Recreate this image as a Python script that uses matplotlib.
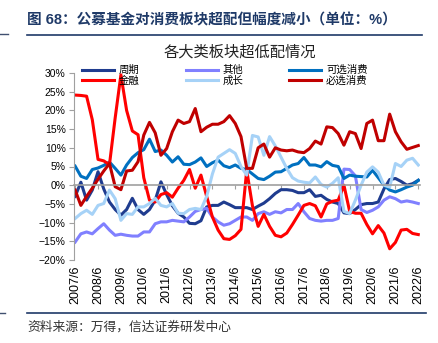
import matplotlib
matplotlib.use('Agg')
import matplotlib.pyplot as plt
from matplotlib.lines import Line2D

plt.rcParams['font.family'] = ['Liberation Sans', 'Noto Sans CJK SC']

# 季度数据 2007/6 - 2022/6
years = [f'{y}/6' for y in range(2007, 2023)]

cycle = [-3.0, 0.8, -4.0, -1.3, 3.6, -1.0, -4.5, -6.5, -8.0, -6.5,
         -3.5, -6.5, -7.8, -6.5, -4.0, 0.9, -2.5, -5.5, -7.5, -8.5,
         -10.2, -10.3, -9.5, -5.8, -5.4, -5.4, -4.5, -5.2, -6.0, -6.0,
         -6.0, -6.5, -5.6, -4.8, -3.6, -2.2, -1.2, -1.2, -1.4, -2.0,
         -2.0, -1.2, -3.0, -2.7, -3.8, -4.5, -4.9, -7.4, -7.6, -6.5,
         -5.2, -4.9, -4.9, -4.5, -1.0, 1.5, 1.8, 1.0, 0.0, 0.4, 1.3]
finance = [24.1, 24.0, 23.8, 17.5, 6.9, 6.5, 5.5, 18.0, 29.5, 20.0,
           14.5, 13.5, 2.0, -4.0, -4.5, -2.5, -2.0, -3.2, -0.8, 1.3,
           4.2, -0.8, 2.7, -3.0, -8.5, -12.0, -14.3, -14.5, -13.5, -11.8,
           4.0, -5.5, -11.0, -7.8, -11.0, -13.4, -13.8, -12.8, -10.5, -8.0,
           -5.4, -4.9, -5.5, -8.5, -5.0, -4.3, -4.0, 0.0, -7.0, -7.5,
           -7.5, -10.5, -13.0, -10.8, -12.8, -17.0, -15.3, -12.0, -11.8, -12.9, -13.2]
other = [-15.2, -13.0, -12.5, -13.0, -11.6, -10.3, -12.0, -13.4, -13.1, -13.4,
         -13.6, -13.6, -12.5, -12.5, -10.3, -9.8, -9.8, -9.4, -9.6, -9.8,
         -8.5, -7.0, -6.5, -6.2, -8.5, -9.8, -10.7, -10.3, -9.4, -8.5,
         -8.5, -9.4, -7.6, -7.1, -7.8, -7.1, -7.4, -6.5, -6.5, -4.9,
         -7.1, -8.9, -9.4, -9.6, -9.4, -9.4, -8.9, 4.3, 4.2, 2.5,
         -6.5, -7.3, -6.7, -5.8, -4.0, -3.1, -3.6, -4.5, -4.2, -4.5, -4.9]
growth = [-8.9, -7.6, -6.7, -7.8, -5.4, -4.9, -1.3, -3.6, -9.4, -7.6,
          -7.8, -5.8, -5.8, -4.9, -3.5, -5.4, -5.8, -4.9, -7.5, -7.6,
          -6.5, -6.2, -6.5, -3.0, 3.0, 7.5, 8.5, 9.5, 8.5, 5.0,
          2.7, 13.3, 12.9, 8.0, 13.0, 10.5, 7.5, 4.5, 2.0, 1.1,
          0.8, 0.6, 2.2, 0.2, -0.5, 0.5, 2.0, -7.0, -7.6, -4.0,
          0.0, 3.5, 4.9, 3.5, 0.0, -0.5, 5.8, 5.0, 6.7, 7.2, 5.4]
discretionary = [5.1, 2.4, 1.8, 4.2, 4.6, 5.3, 6.2, 4.5, 2.7, 5.4,
                 7.4, 8.7, 9.5, 12.3, 9.0, 9.4, 8.0, 6.2, 7.6, 5.6,
                 5.5, 6.2, 7.3, 5.0, 6.0, 6.7, 5.2, 4.7, 5.4, 4.5,
                 4.2, 3.0, 1.8, 1.5, 2.4, 3.5, 3.6, 4.5, 5.4, 5.8,
                 7.4, 5.4, 5.4, 4.9, 6.3, 5.3, 5.0, 1.8, 2.7, 2.4,
                 2.3, 2.2, 4.0, 2.0, 0.0, -1.3, -1.8, -1.2, -0.5, 0.0, 1.3]
staples = [-1.3, -5.4, -3.0, -0.8, 1.6, 3.8, 5.8, -0.4, -1.2, 3.8,
           4.0, 6.3, 13.4, 16.8, 14.0, 8.0, 9.8, 14.3, 17.4, 16.5,
           17.0, 20.5, 14.3, 15.5, 16.3, 16.3, 17.0, 18.6, 16.5, 13.0,
           4.5, 4.5, 10.0, 11.0, 7.5, 10.0, 9.4, 9.2, 9.4, 8.9,
           8.7, 9.8, 11.8, 11.0, 15.6, 15.4, 13.8, 10.7, 14.3, 13.8,
           9.8, 16.5, 17.4, 11.9, 11.9, 19.0, 14.3, 11.6, 9.6, 10.1, 10.6]

x = list(range(len(cycle)))
W, H = 438, 343
fig = plt.figure(figsize=(W / 100, H / 100), dpi=100)
ax = fig.add_axes([74 / W, 1 - 260 / H, (420 - 74) / W, (260 - 73) / H])

lw = 2.2
h1, = ax.plot(x, cycle, color='#1F3C8F', lw=lw, label='周期')
h2, = ax.plot(x, other, color='#8080FF', lw=lw, label='其他')
h3, = ax.plot(x, discretionary, color='#0070C0', lw=lw, label='可选消费')
h4, = ax.plot(x, finance, color='#FF0000', lw=lw, label='金融')
h5, = ax.plot(x, growth, color='#A6D2F7', lw=lw, label='成长')
h6, = ax.plot(x, staples, color='#C00000', lw=lw, label='必选消费')

ax.set_xlim(-0.2, 60.3)
ax.set_ylim(-20, 30)

grey = '#A0A0A0'
for s in ['top', 'right']:
    ax.spines[s].set_visible(False)
ax.spines['left'].set_color(grey)
ax.spines['bottom'].set_position(('data', 0))
ax.spines['bottom'].set_color(grey)
ax.spines['bottom'].set_linewidth(1.2)

yt = list(range(-20, 31, 5))
ax.set_yticks(yt)
ax.set_yticklabels([(f'\u2212{-v}%' if v < 0 else f'{v}%') for v in yt], fontsize=7.5)
ax.tick_params(axis='y', length=3.5, color=grey, pad=2.5)

ticks = list(range(0, len(cycle), 4))
ax.set_xticks(ticks)
ax.tick_params(axis='x', length=3, color=grey, labelbottom=False)

sec = ax.secondary_xaxis(0.0)
sec.set_xticks(ticks)
sec.set_xticklabels(years, rotation=90, fontsize=9)
sec.tick_params(length=0, pad=4)
sec.spines['bottom'].set_visible(False)

leg = ax.legend(handles=[h1, h4, h2, h5, h3, h6], ncol=3, frameon=False,
                loc='upper left', bbox_to_anchor=(82 / W, 1 - 65 / H),
                bbox_transform=fig.transFigure, fontsize=7.5,
                handlelength=3.1, handletextpad=0.45, columnspacing=4.4,
                labelspacing=0.05, borderpad=0, borderaxespad=0)

fig.text(240 / W, 1 - 52 / H, '各大类板块超低配情况', ha='center', va='center',
         fontsize=11, color='#222222')

navy = '#1F3A68'
fig.text(27 / W, 1 - 20 / H, '图 68：公募基金对消费板块超配但幅度减小（单位：%）',
         ha='left', va='center', fontsize=10.5, fontweight='bold', color=navy)
fig.add_artist(Line2D([27 / W, 422 / W], [1 - 35 / H, 1 - 35 / H], color=navy, lw=1.2))
fig.add_artist(Line2D([0, 8 / W], [1 - 34 / H, 1 - 34 / H], color='#405070', lw=1))
fig.add_artist(Line2D([27 / W, 426 / W], [1 - 313 / H, 1 - 313 / H], color=navy, lw=1.2))
fig.add_artist(Line2D([0, 5 / W], [1 - 313 / H, 1 - 313 / H], color='#405070', lw=1))
fig.text(27 / W, 1 - 327 / H, '资料来源：万得，信达证券研发中心', ha='left', va='center',
         fontsize=9.2, color='#333333')

fig.savefig('out.png', dpi=100)
